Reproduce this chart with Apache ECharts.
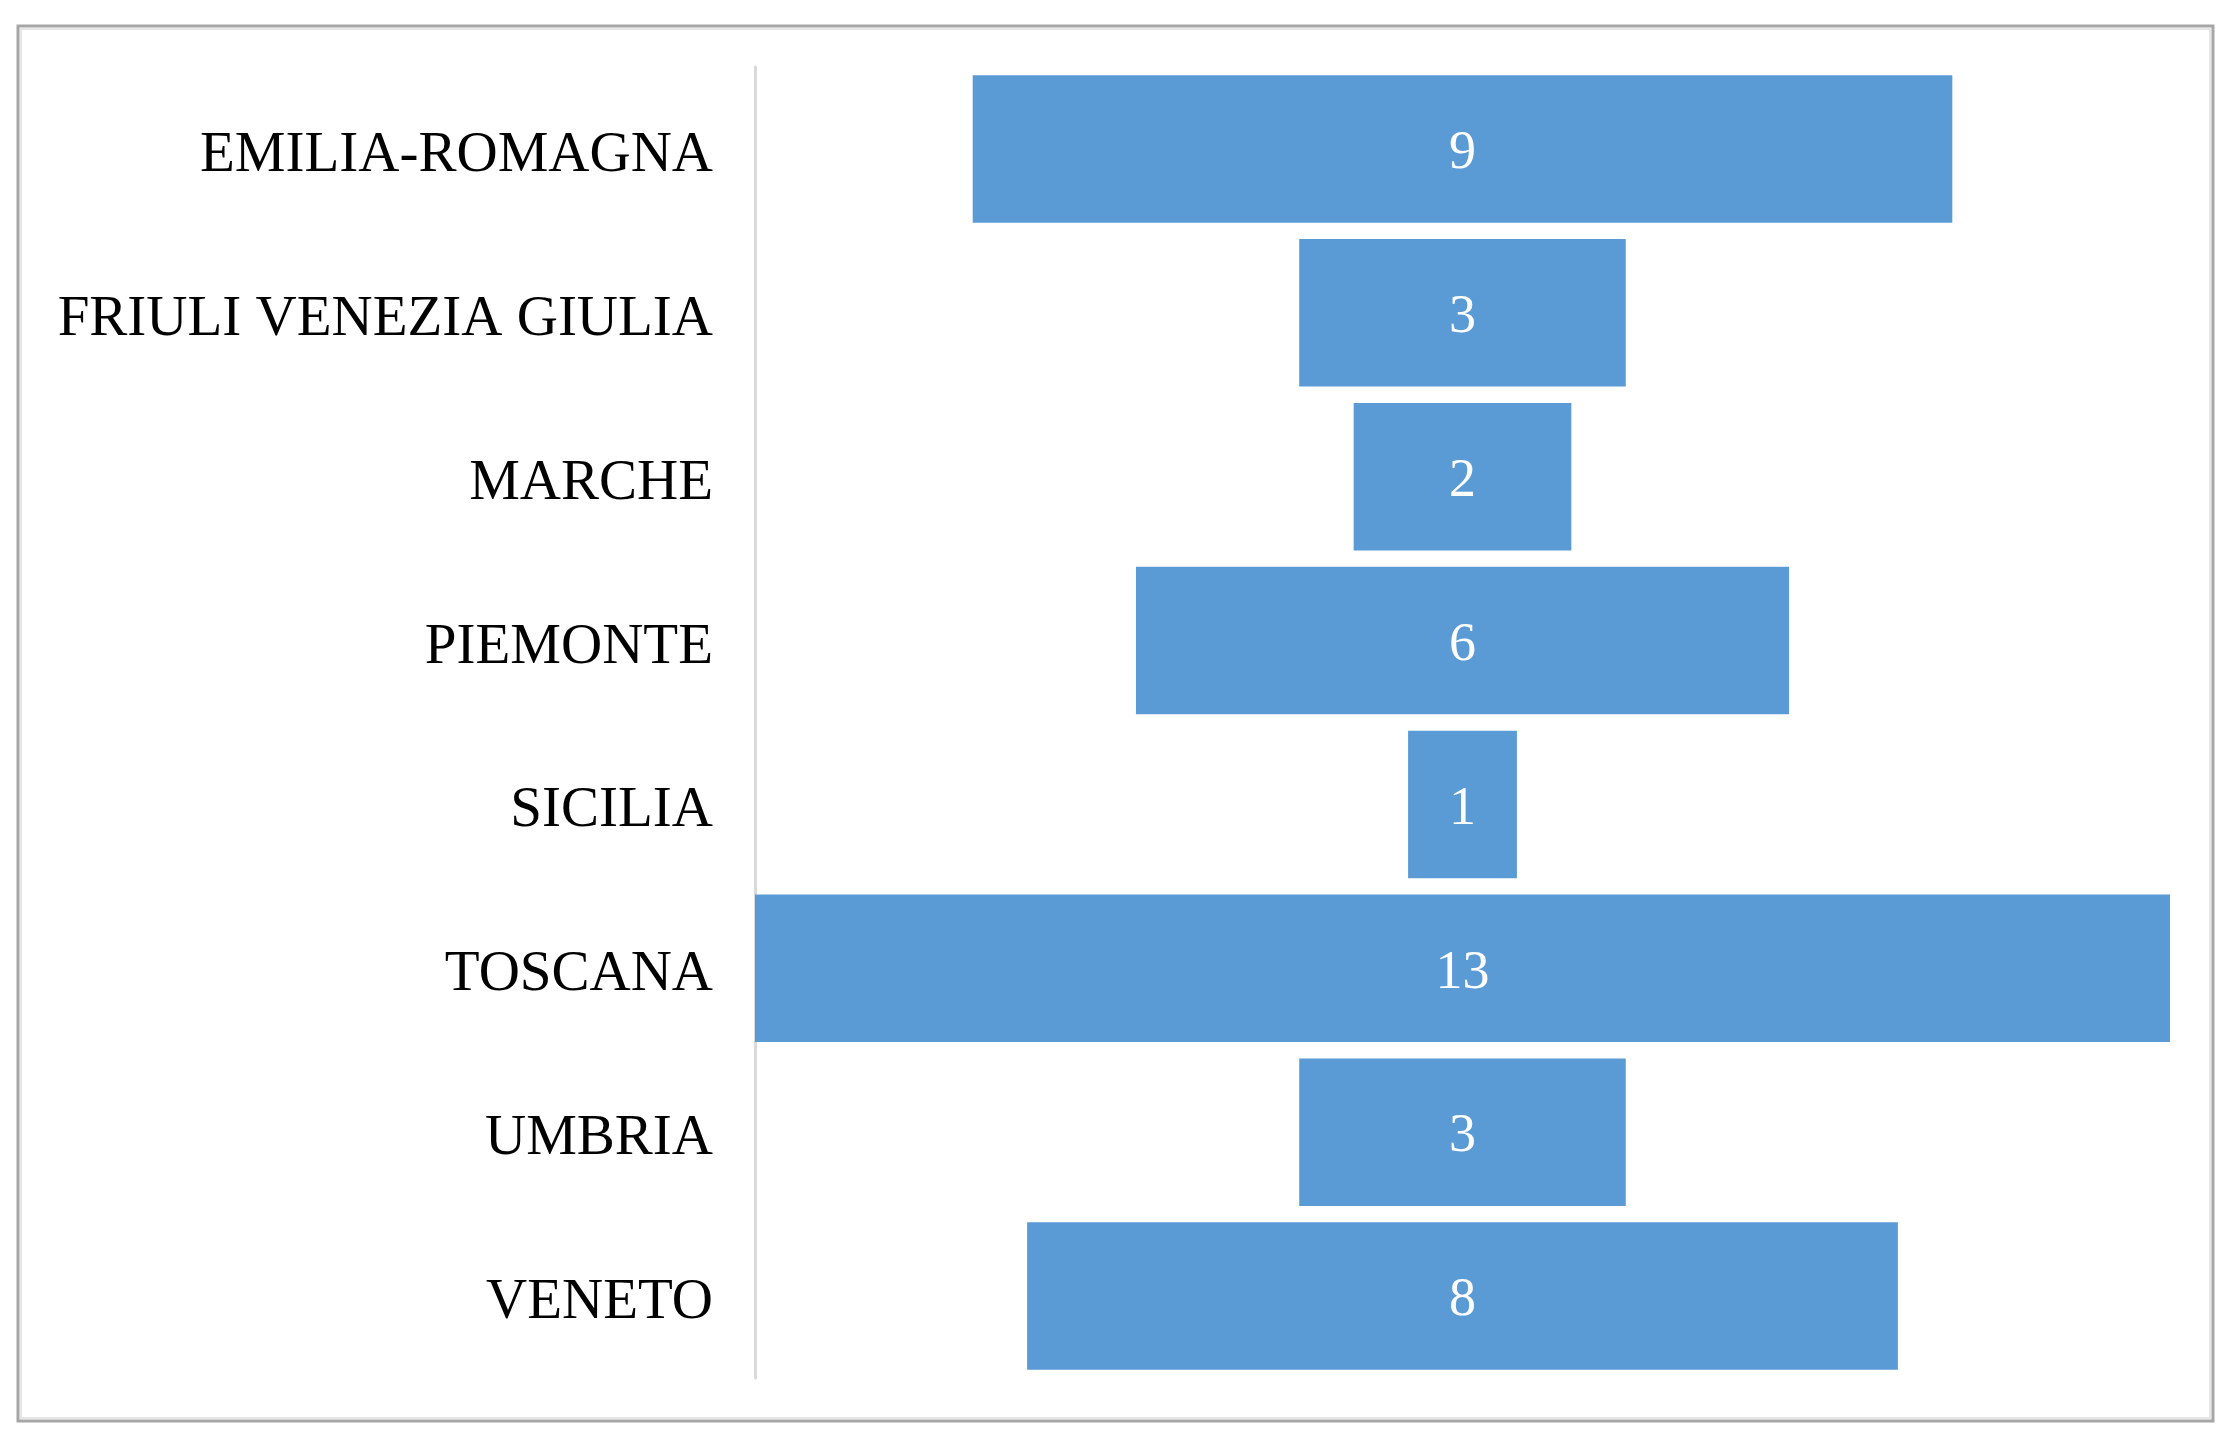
<!DOCTYPE html>
<html>
<head>
    <meta charset="utf-8">
    <script src="https://cdn.jsdelivr.net/npm/echarts@6/dist/echarts.min.js"></script>
    <style>
        html, body { margin: 0; padding: 0; background: #ffffff; }
        #main { width: 2237px; height: 1444px; }
    </style>
</head>
<body>
    <div id="main"></div>
    <script>
        // regions, top to bottom
        const regions = ['EMILIA-ROMAGNA', 'FRIULI VENEZIA GIULIA', 'MARCHE', 'PIEMONTE', 'SICILIA', 'TOSCANA', 'UMBRIA', 'VENETO'];
        const counts = [9, 3, 2, 6, 1, 13, 3, 8];

        const maxCount = Math.max.apply(null, counts);
        // transparent padding so each bar sits centred (funnel look)
        const padding = counts.map(function (v) { return (maxCount - v) / 2; });

        const chart = echarts.init(document.getElementById('main'));
        const option = {
            backgroundColor: '#ffffff',
            animation: false,
            graphic: [
                {
                    type: 'rect',
                    shape: { x: 18, y: 26, width: 2195, height: 1395 },
                    style: { fill: null, stroke: '#a6a6a6', lineWidth: 3 },
                    silent: true
                },
                {
                    type: 'rect',
                    shape: { x: 21, y: 29, width: 2189, height: 1389 },
                    style: { fill: null, stroke: '#e6e6e6', lineWidth: 2 },
                    silent: true
                }
            ],
            grid: {
                left: 755,
                right: 67,
                top: 67,
                bottom: 66
            },
            xAxis: {
                type: 'value',
                min: 0,
                max: maxCount,
                show: false
            },
            yAxis: {
                type: 'category',
                data: regions,
                inverse: true,
                axisLine: { show: true, lineStyle: { color: '#d9d9d9', width: 3 } },
                axisTick: { show: false },
                axisLabel: {
                    margin: 42,
                    formatter: '{r|{value}}',
                    rich: {
                        r: {
                            color: '#000000',
                            fontFamily: 'Liberation Serif',
                            fontSize: 57,
                            padding: [14, 0, 0, 0]
                        }
                    }
                },
                splitLine: { show: false }
            },
            series: [
                {
                    name: 'pad',
                    type: 'bar',
                    stack: 'funnel',
                    silent: true,
                    data: padding,
                    itemStyle: { color: 'rgba(0,0,0,0)' },
                    barCategoryGap: '10%'
                },
                {
                    name: 'count',
                    type: 'bar',
                    stack: 'funnel',
                    data: counts,
                    itemStyle: { color: '#5b9bd5' },
                    barCategoryGap: '10%',
                    label: {
                        show: true,
                        position: 'inside',
                        offset: [0, 5],
                        color: '#ffffff',
                        fontFamily: 'Liberation Serif',
                        fontSize: 54
                    }
                }
            ]
        };
        chart.setOption(option);
    </script>
</body>
</html>
